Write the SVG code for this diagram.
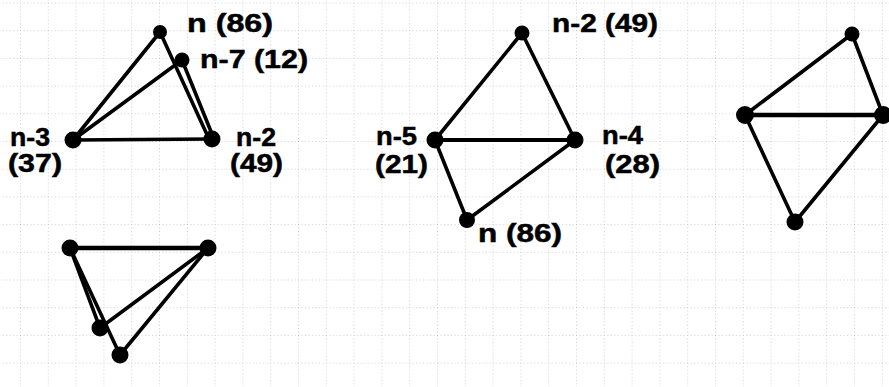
<svg xmlns="http://www.w3.org/2000/svg" width="889" height="387" viewBox="0 0 889 387">
<defs>
<pattern id="grid" x="20" y="2.5" width="27.8" height="27.7" patternUnits="userSpaceOnUse">
<path d="M0 0V27.7M0 0H27.8" fill="none" stroke="#9a9a9a" stroke-width="1" stroke-dasharray="1 2.5"/>
</pattern>
</defs>
<style>
.e{stroke:#000;stroke-width:3.6;stroke-linecap:round;fill:none}
.n{fill:#000}
.t{font-family:"Liberation Sans",Arial,sans-serif;font-weight:bold;font-size:25px;fill:#000;stroke:#000;stroke-width:0.5}
</style>
<rect width="889" height="387" fill="#fff"/>
<rect width="889" height="387" fill="url(#grid)"/>
<g id="connectors">
<line class="e" x1="73" y1="140" x2="160" y2="32"/>
<line class="e" x1="73" y1="140" x2="182" y2="60"/>
<line class="e" x1="73" y1="140" x2="212" y2="139"/>
<line class="e" x1="160" y1="32" x2="209" y2="139"/>
<line class="e" x1="182" y1="60" x2="214" y2="139"/>
<line class="e" x1="435" y1="140" x2="522" y2="33"/>
<line class="e" x1="522" y1="33" x2="575" y2="140"/>
<line class="e" x1="435" y1="140" x2="575" y2="140" style="stroke-width:4.2"/>
<line class="e" x1="435" y1="140" x2="467" y2="220"/>
<line class="e" x1="467" y1="220" x2="575" y2="140"/>
<line class="e" x1="745" y1="115" x2="852" y2="34"/>
<line class="e" x1="852" y1="34" x2="883" y2="115"/>
<line class="e" x1="745" y1="115" x2="883" y2="115" style="stroke-width:4.5"/>
<line class="e" x1="745" y1="115" x2="795" y2="222"/>
<line class="e" x1="795" y1="222" x2="883" y2="115"/>
<line class="e" x1="70" y1="248" x2="208" y2="248" style="stroke-width:4.5"/>
<line class="e" x1="70" y1="248" x2="100" y2="328"/>
<line class="e" x1="70" y1="248" x2="120" y2="355"/>
<line class="e" x1="208" y1="248" x2="100" y2="328"/>
<line class="e" x1="208" y1="248" x2="120" y2="355"/>
</g>
<g id="g1-n"><circle class="n" cx="160" cy="32" r="7"/><text class="t" x="187" y="32" textLength="86" lengthAdjust="spacingAndGlyphs">n (86)</text></g>
<g id="g1-n7"><circle class="n" cx="182" cy="60" r="7.5"/><text class="t" x="200" y="68" textLength="108" lengthAdjust="spacingAndGlyphs">n-7 (12)</text></g>
<g id="g1-n3"><circle class="n" cx="73" cy="140" r="8.5"/><text class="t" x="10" y="146" textLength="40" lengthAdjust="spacingAndGlyphs">n-3</text><text class="t" x="8" y="172" textLength="54" lengthAdjust="spacingAndGlyphs">(37)</text></g>
<g id="g1-n2"><circle class="n" cx="212" cy="139" r="8.5"/><text class="t" x="236" y="146" textLength="40" lengthAdjust="spacingAndGlyphs">n-2</text><text class="t" x="230" y="172" textLength="53" lengthAdjust="spacingAndGlyphs">(49)</text></g>
<g id="g2-n2"><circle class="n" cx="522" cy="33" r="7.5"/><text class="t" x="552" y="32" textLength="106" lengthAdjust="spacingAndGlyphs">n-2 (49)</text></g>
<g id="g2-n5"><circle class="n" cx="435" cy="140" r="8.5"/><text class="t" x="376" y="145" textLength="41" lengthAdjust="spacingAndGlyphs">n-5</text><text class="t" x="375" y="173" textLength="53" lengthAdjust="spacingAndGlyphs">(21)</text></g>
<g id="g2-n4"><circle class="n" cx="575" cy="140" r="8.5"/><text class="t" x="602" y="144" textLength="41" lengthAdjust="spacingAndGlyphs">n-4</text><text class="t" x="605" y="173" textLength="55" lengthAdjust="spacingAndGlyphs">(28)</text></g>
<g id="g2-n"><circle class="n" cx="467" cy="220" r="8"/><text class="t" x="478" y="242" textLength="84" lengthAdjust="spacingAndGlyphs">n (86)</text></g>
<g id="g3-top"><circle class="n" cx="852" cy="34" r="7.5"/></g>
<g id="g3-left"><circle class="n" cx="745" cy="115" r="9"/></g>
<g id="g3-right"><circle class="n" cx="883" cy="115" r="9"/></g>
<g id="g3-bottom"><circle class="n" cx="795" cy="222" r="8.5"/></g>
<g id="g4-tl"><circle class="n" cx="70" cy="248" r="8.5"/></g>
<g id="g4-tr"><circle class="n" cx="208" cy="248" r="8.5"/></g>
<g id="g4-mid"><circle class="n" cx="100" cy="328" r="8.5"/></g>
<g id="g4-bot"><circle class="n" cx="120" cy="355" r="8.5"/></g>
</svg>
